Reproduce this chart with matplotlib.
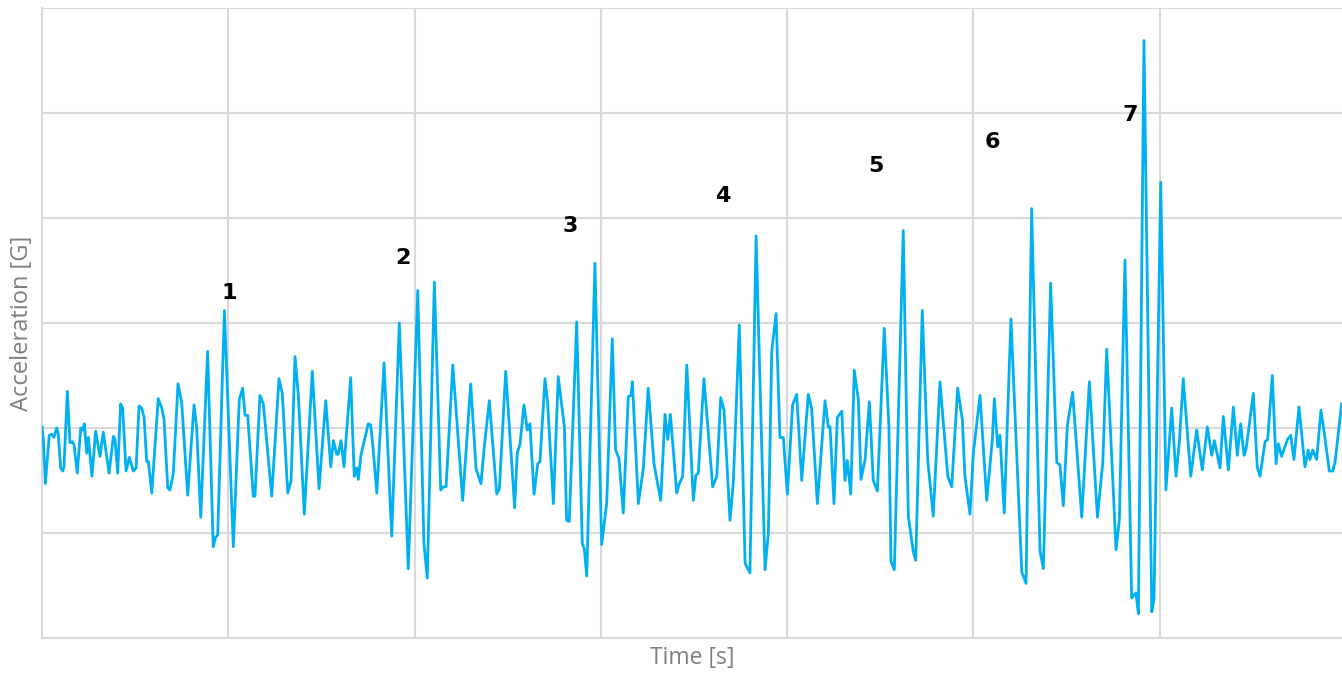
import numpy as np
import matplotlib
matplotlib.use("Agg")
import matplotlib.pyplot as plt

# time [s] / acceleration [G] (peaks, troughs, shoulders)
t = [0.000, 0.007, 0.018, 0.039, 0.052, 0.064, 0.079, 0.087, 0.100, 0.111, 0.118, 0.136, 0.150, 0.163, 0.172, 0.189,
     0.208, 0.218, 0.227, 0.240, 0.249, 0.268, 0.288, 0.311, 0.329, 0.360, 0.383, 0.392, 0.406, 0.422, 0.433, 0.451,
     0.469, 0.490, 0.505, 0.521, 0.535, 0.548, 0.562, 0.571, 0.589, 0.624, 0.643, 0.655, 0.675, 0.687, 0.705, 0.730,
     0.750, 0.782, 0.816, 0.830, 0.852, 0.889,
     0.919, 0.932, 0.943, 0.979, 1.027, 1.059, 1.077, 1.090, 1.104, 1.134, 1.143, 1.170, 1.188, 1.233, 1.272, 1.290,
     1.319, 1.337, 1.358, 1.376, 1.408, 1.451, 1.487, 1.523, 1.550, 1.564, 1.582, 1.590, 1.605, 1.621, 1.657, 1.676,
     1.689, 1.698, 1.712, 1.751, 1.764, 1.775,
     1.797, 1.836, 1.877, 1.918, 1.966, 2.017, 2.050, 2.068, 2.106, 2.140, 2.154, 2.169, 2.205, 2.258, 2.301, 2.330,
     2.356, 2.374, 2.401, 2.441, 2.455, 2.489, 2.537, 2.551, 2.566, 2.587, 2.605, 2.619, 2.641,
     2.661, 2.673, 2.700, 2.714, 2.745, 2.771, 2.804, 2.816, 2.830, 2.870, 2.900, 2.911, 2.924, 2.968, 3.004, 3.031,
     3.061, 3.079, 3.097, 3.120, 3.147, 3.162, 3.169, 3.201, 3.228, 3.254, 3.285, 3.321, 3.344, 3.359, 3.373, 3.407,
     3.419, 3.439, 3.461, 3.496, 3.510, 3.523, 3.532, 3.553,
     3.600, 3.622, 3.643, 3.661, 3.693, 3.711, 3.743, 3.774, 3.800, 3.833, 3.881, 3.899, 3.917, 3.940, 3.961, 3.979,
     4.001, 4.029, 4.051, 4.078, 4.113, 4.131, 4.162, 4.203, 4.221, 4.230, 4.251, 4.269, 4.293, 4.310, 4.323, 4.341,
     4.360, 4.382, 4.396, 4.418,
     4.441, 4.462, 4.484, 4.521, 4.546, 4.557, 4.575, 4.623, 4.650, 4.677, 4.690, 4.725, 4.754, 4.784, 4.820, 4.862,
     4.883, 4.915, 4.940, 4.954, 4.981, 4.999, 5.035, 5.071, 5.101, 5.112, 5.130, 5.142, 5.165, 5.201, 5.259, 5.282,
     5.312,
     5.357, 5.375, 5.414, 5.447, 5.464, 5.482, 5.504, 5.532, 5.581, 5.622, 5.665, 5.694, 5.715, 5.765, 5.783, 5.813,
     5.849, 5.872, 5.885, 5.915, 5.957, 5.969, 6.005, 6.033, 6.064,
     6.087, 6.105, 6.126, 6.166, 6.198, 6.228, 6.255, 6.279, 6.293, 6.323, 6.341, 6.368, 6.395, 6.416, 6.434, 6.452,
     6.463, 6.502, 6.523, 6.538, 6.565, 6.579, 6.604, 6.624, 6.636, 6.654, 6.685, 6.703, 6.720, 6.747, 6.779, 6.797,
     6.806, 6.821, 6.842, 6.865, 6.883, 6.910, 6.928, 6.941, 6.976]

acc = [0.01, -0.11, -0.53, -0.07, -0.06, -0.09, 0.00, -0.05, -0.38, -0.41, -0.37, 0.35, -0.14, -0.13, -0.16, -0.43,
       0.00, -0.02, 0.04, -0.24, -0.09, -0.46, -0.03, -0.27, -0.04, -0.43, -0.08, -0.11, -0.43, 0.23, 0.19, -0.41,
       -0.28, -0.41, -0.38, 0.21, 0.19, 0.10, -0.32, -0.32, -0.62, 0.28, 0.19, 0.08, -0.57, -0.59, -0.43, 0.42,
       0.24, -0.64, 0.22, 0.01, -0.85, 0.73,
       -1.13, -1.04, -1.02, 1.12, -1.13, 0.27, 0.38, 0.12, 0.12, -0.65, -0.65, 0.31, 0.23, -0.65, 0.47, 0.33,
       -0.62, -0.50, 0.68, 0.31, -0.82, 0.54, -0.58, 0.26, -0.37, -0.12, -0.25, -0.25, -0.12, -0.37, 0.48, -0.46,
       -0.38, -0.49, -0.26, 0.04, 0.03, -0.15,
       -0.62, 0.62, -1.03, 1.00, -1.34, 1.31, -1.10, -1.43, 1.39, -0.59, -0.56, -0.56, 0.60, -0.69, 0.42, -0.39,
       -0.53, -0.18, 0.26, -0.63, -0.58, 0.54, -0.76, -0.24, -0.15, 0.22, -0.02, 0.04, -0.63,
       -0.34, -0.32, 0.47, 0.24, -0.72, 0.49, 0.01, -0.88, -0.89, 1.01, -1.10, -1.15, -1.41, 1.57, -1.11, -0.72,
       0.85, -0.21, -0.29, -0.81, 0.30, 0.31, 0.44, -0.72, -0.38, 0.38, -0.34, -0.69, 0.13, -0.11, 0.13, -0.62,
       -0.54, -0.46, 0.60, -0.69, -0.45, -0.43, -0.15, 0.47,
       -0.56, -0.46, 0.29, 0.17, -0.88, -0.51, 0.98, -1.29, -1.38, 1.83, -1.35, -1.00, 0.73, 1.09, -0.09, -0.09,
       -0.63, 0.22, 0.32, -0.50, 0.32, 0.19, -0.72, 0.26, 0.01, 0.01, -0.72, 0.10, 0.16, -0.50, -0.31, -0.63,
       0.55, 0.27, -0.49, -0.30,
       0.25, -0.50, -0.60, 0.95, 0.01, -1.27, -1.35, 1.88, -0.84, -1.18, -1.26, 1.12, -0.30, -0.84, 0.44, -0.46,
       -0.56, 0.38, 0.08, -0.46, -0.82, -0.24, 0.31, -0.69, -0.11, 0.28, -0.18, -0.07, -0.81, 1.04, -1.37, -1.48,
       2.09,
       -1.17, -1.34, 1.38, -0.33, -0.35, -0.74, 0.03, 0.34, -0.85, 0.44, -0.85, -0.33, 0.75, -1.16, -0.87, 1.60,
       -1.62, -1.57, -1.77, 3.69, -1.75, -1.62, 2.34, -0.59, 0.19,
       -0.46, -0.13, 0.47, -0.46, -0.02, -0.40, 0.01, -0.26, -0.12, -0.38, 0.11, -0.40, 0.20, -0.26, 0.04, -0.26,
       -0.20, 0.33, -0.37, -0.46, -0.13, -0.11, 0.50, -0.34, -0.15, -0.27, -0.11, -0.07, -0.30, 0.20, -0.37, -0.21,
       -0.30, -0.21, -0.30, 0.17, -0.05, -0.41, -0.41, -0.32, 0.23]

# numbered impacts
labels = ["1", "2", "3", "4", "5", "6", "7"]
label_t = [1.004, 1.938, 2.834, 3.655, 4.477, 5.099, 5.840]
label_a = [1.29, 1.62, 1.92, 2.21, 2.50, 2.72, 2.98]

fig = plt.figure(figsize=(13.42, 6.73), dpi=100)
ax = fig.add_axes([42 / 1342, 35 / 673, 1300 / 1342, 630 / 673])

ax.plot(t, acc, color="#00B0F0", linewidth=2.0, solid_joinstyle="round", zorder=3)

for lab, x, y in zip(labels, label_t, label_a):
    ax.text(x, y, lab, ha="center", va="center", fontsize=16, fontweight="bold",
            color="black", family="DejaVu Sans")

ax.set_xlim(0, 6.978)
ax.set_ylim(-2, 4)
ax.set_xticks(np.arange(1, 7))
ax.set_yticks(np.arange(-1, 5))
ax.grid(True, color="#d9d9d9", linewidth=1.5)
ax.tick_params(length=0, labelbottom=False, labelleft=False)
for side in ["top", "right"]:
    ax.spines[side].set_visible(False)
for side in ["left", "bottom"]:
    ax.spines[side].set_color("#d9d9d9")
    ax.spines[side].set_linewidth(1.5)

ax.set_xlabel("Time [s]", fontsize=16.5, color="#7f7f7f", family="Open Sans", labelpad=6)
ax.set_ylabel("Acceleration [G]", fontsize=17, color="#7f7f7f", family="Open Sans", labelpad=6)

fig.savefig("out.png", dpi=100)
